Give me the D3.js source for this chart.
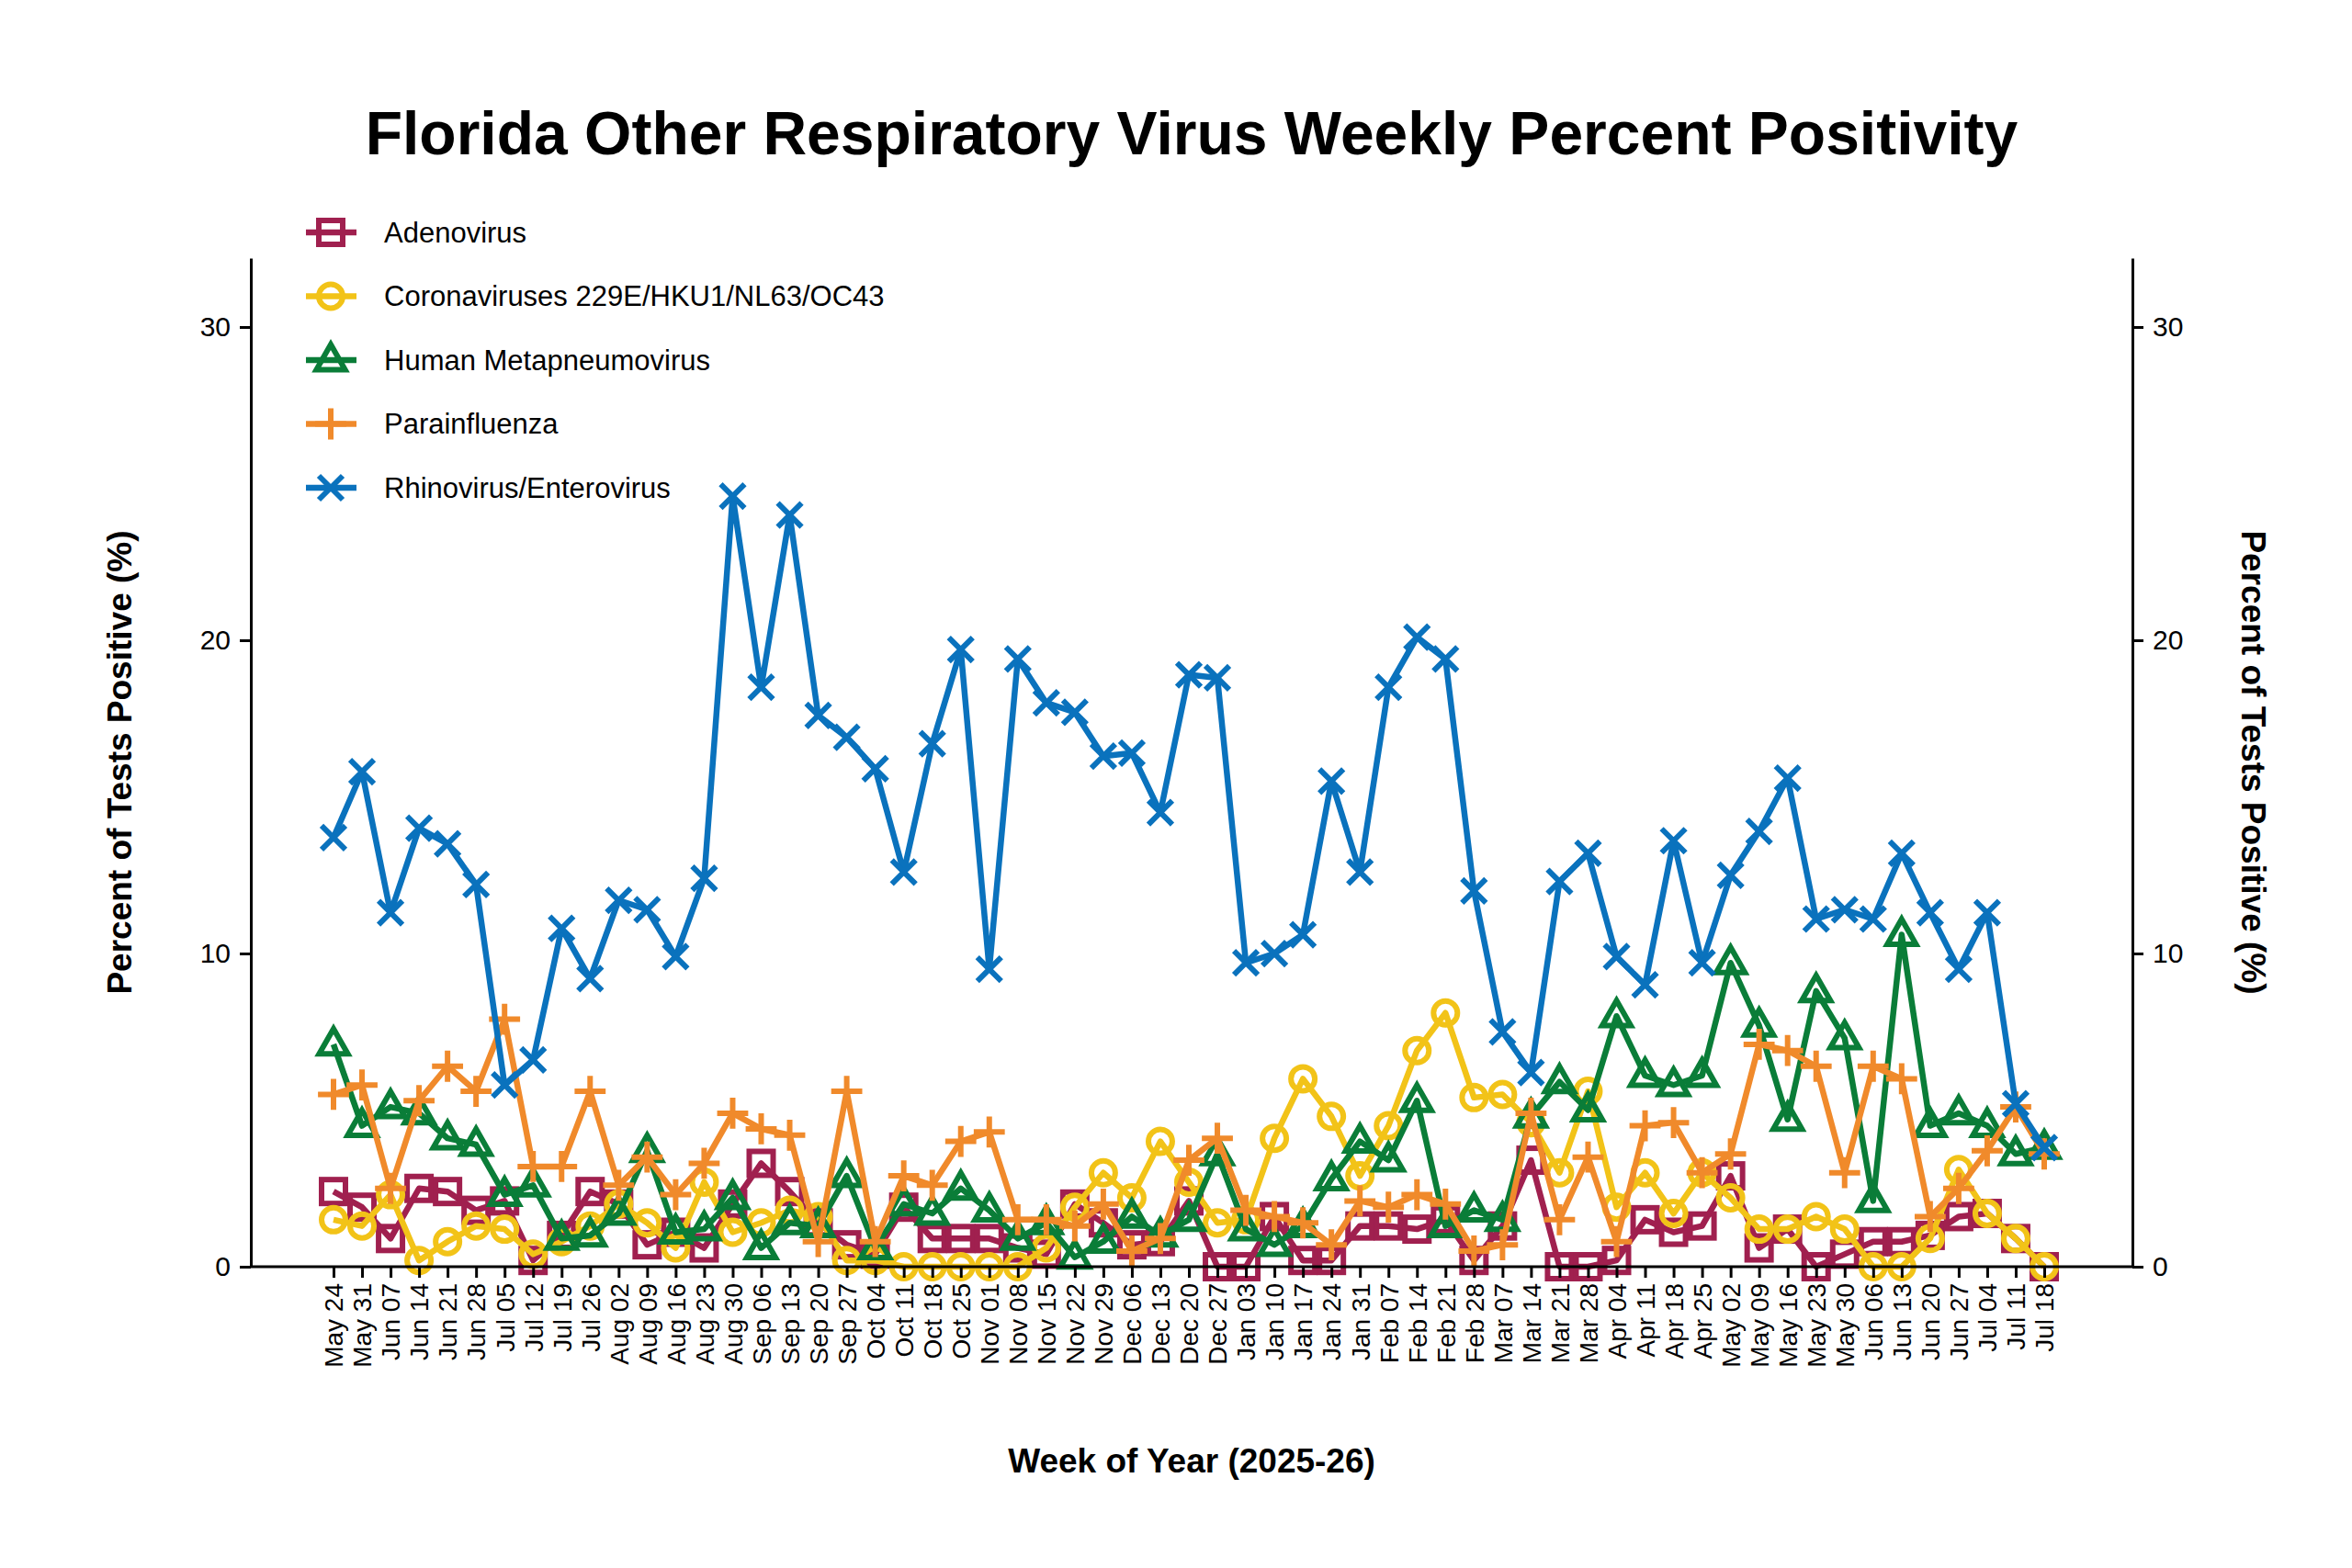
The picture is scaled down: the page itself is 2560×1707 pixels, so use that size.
<!DOCTYPE html>
<html>
<head>
<script src="https://d3js.org/d3.v7.min.js"></script>
<style>body{margin:0;background:#fff;font-family:Arial,"Liberation Sans",sans-serif;}</style>
</head>
<body>
<svg width="2560" height="1707"></svg>
<script>
const weeks = ["May 24","May 31","Jun 07","Jun 14","Jun 21","Jun 28","Jul 05","Jul 12","Jul 19","Jul 26","Aug 02","Aug 09","Aug 16","Aug 23","Aug 30","Sep 06","Sep 13","Sep 20","Sep 27","Oct 04","Oct 11","Oct 18","Oct 25","Nov 01","Nov 08","Nov 15","Nov 22","Nov 29","Dec 06","Dec 13","Dec 20","Dec 27","Jan 03","Jan 10","Jan 17","Jan 24","Jan 31","Feb 07","Feb 14","Feb 21","Feb 28","Mar 07","Mar 14","Mar 21","Mar 28","Apr 04","Apr 11","Apr 18","Apr 25","May 02","May 09","May 16","May 23","May 30","Jun 06","Jun 13","Jun 20","Jun 27","Jul 04","Jul 11","Jul 18"];

const adeno = [2.4,1.9,0.9,2.5,2.4,1.8,2.1,0.2,1.0,2.4,2.0,0.7,1.1,0.6,2.0,3.3,2.4,1.4,0.7,0.4,1.9,0.9,0.9,0.9,0.6,0.4,2.0,1.4,0.7,0.8,2.1,0.0,0.0,1.6,0.2,0.2,1.3,1.3,1.2,1.5,0.2,1.3,3.4,0.0,0.0,0.2,1.5,1.1,1.3,2.9,0.6,1.2,0.0,0.4,0.8,0.8,1.0,1.6,1.7,0.9,0.0];
const corona = [1.5,1.3,2.3,0.2,0.8,1.3,1.2,0.4,0.8,1.3,2.0,1.4,0.6,2.7,1.1,1.4,1.8,1.6,0.2,0.2,0.0,0.0,0.0,0.0,0.0,0.6,1.9,3.0,2.2,4.0,2.7,1.4,1.5,4.1,6.0,4.8,2.9,4.5,6.9,8.1,5.4,5.5,4.6,3.0,5.6,1.9,3.0,1.7,3.0,2.2,1.2,1.2,1.6,1.2,0.0,0.0,0.9,3.1,1.7,0.9,0.0];
const hmpv = [7.1,4.5,5.1,4.9,4.1,3.9,2.3,2.6,0.9,1.0,1.7,3.7,1.1,1.2,2.2,0.6,1.4,1.3,2.9,0.6,2.0,1.7,2.5,1.8,0.9,1.4,0.3,0.8,1.6,1.0,1.5,3.6,1.2,0.7,1.3,2.8,4.0,3.4,5.3,1.3,1.8,1.5,4.8,5.9,5.0,8.0,6.1,5.8,6.1,9.7,7.7,4.7,8.8,7.3,2.1,10.6,4.5,4.9,4.5,3.6,3.8];
const para = [5.5,5.8,2.5,5.3,6.4,5.6,7.9,3.2,3.2,5.6,2.6,3.5,2.3,3.3,4.9,4.4,4.2,0.8,5.6,0.8,2.9,2.6,4.0,4.3,1.5,1.5,1.3,2.0,0.5,0.9,3.4,4.1,1.8,1.6,1.4,0.7,2.1,1.9,2.3,2.0,0.5,0.7,4.9,1.5,3.5,0.8,4.5,4.6,3.0,3.6,7.1,6.9,6.4,3.0,6.4,6.0,1.6,2.5,3.7,5.1,3.6];
const rhino = [13.7,15.8,11.3,14.0,13.5,12.2,5.8,6.6,10.8,9.2,11.7,11.4,9.9,12.4,24.6,18.5,24.0,17.6,16.9,15.9,12.6,16.7,19.7,9.5,19.4,18.0,17.7,16.3,16.4,14.5,18.9,18.8,9.7,10.0,10.6,15.5,12.6,18.5,20.1,19.4,12.0,7.5,6.2,12.3,13.2,9.9,9.0,13.6,9.7,12.5,13.9,15.6,11.1,11.4,11.1,13.2,11.3,9.5,11.3,5.2,3.8];

const series = [
  {name:"Adenovirus", values:adeno, color:"#a0204f", shape:"square"},
  {name:"Coronaviruses 229E/HKU1/NL63/OC43", values:corona, color:"#f2c318", shape:"circle"},
  {name:"Human Metapneumovirus", values:hmpv, color:"#0a7d38", shape:"triangle"},
  {name:"Parainfluenza", values:para, color:"#f08a2b", shape:"plus"},
  {name:"Rhinovirus/Enterovirus", values:rhino, color:"#0a72bd", shape:"x"}
];

const svg = d3.select("svg");
const mLeft = 273, mRight = 2321, mTop = 281, mBottom = 1379;

const x = d3.scalePoint().domain(weeks).range([363, 2225]);
const y = d3.scaleLinear().domain([0, 32.2]).range([mBottom, mTop]);

function marker(g, shape, color) {
  const s = 13;
  if (shape === "square") g.append("rect").attr("x",-s).attr("y",-s).attr("width",2*s).attr("height",2*s);
  else if (shape === "circle") g.append("circle").attr("r", s);
  else if (shape === "triangle") g.append("path").attr("d", `M0,${-s*1.3}L${s*1.2},${s*0.8}L${-s*1.2},${s*0.8}Z`);
  else if (shape === "plus") g.append("path").attr("d", `M${-s*1.3},0H${s*1.3}M0,${-s*1.3}V${s*1.3}`);
  else g.append("path").attr("d", `M${-s},${-s}L${s},${s}M${-s},${s}L${s},${-s}`);
  g.selectAll("*").attr("fill","none").attr("stroke",color).attr("stroke-width",6);
}

const line = d3.line().x((d,i) => x(weeks[i])).y(d => y(d));
series.forEach(s => {
  svg.append("path").attr("d", line(s.values)).attr("fill","none")
    .attr("stroke", s.color).attr("stroke-width", 6.5).attr("stroke-linejoin","round");
  s.values.forEach((v,i) => {
    marker(svg.append("g").attr("transform",`translate(${x(weeks[i])},${y(v)})`), s.shape, s.color);
  });
});

function styleAxis(g) {
  g.selectAll("path, line").attr("stroke","#000").attr("stroke-width",3);
  g.selectAll("text").attr("font-size",30).attr("font-family","Arial, Liberation Sans, sans-serif").attr("fill","#000");
}
const ax = svg.append("g").attr("transform",`translate(0,${mBottom})`)
  .call(d3.axisBottom(x).tickSize(12).tickSizeOuter(0));
ax.select(".domain").attr("d", `M${mLeft},0H${mRight}`);
styleAxis(ax);
ax.selectAll("text").attr("font-size",28).attr("transform","rotate(-90)")
  .attr("text-anchor","end").attr("dy","0.35em").attr("x",-18).attr("y",0);

const ayl = svg.append("g").attr("transform",`translate(${mLeft},0)`)
  .call(d3.axisLeft(y).tickValues([0,10,20,30]).tickSize(12).tickSizeOuter(0).tickPadding(10));
styleAxis(ayl);
const ayr = svg.append("g").attr("transform",`translate(${mRight},0)`)
  .call(d3.axisRight(y).tickValues([0,10,20,30]).tickSize(12).tickSizeOuter(0).tickPadding(10));
styleAxis(ayr);

svg.append("text").attr("x",1297).attr("y",168).attr("text-anchor","middle")
  .attr("font-size",66).attr("font-weight","bold").text("Florida Other Respiratory Virus Weekly Percent Positivity");
svg.append("text").attr("x",1297).attr("y",1603).attr("text-anchor","middle")
  .attr("font-size",37).attr("font-weight","bold").text("Week of Year (2025-26)");
svg.append("text").attr("transform",`translate(143,${(mTop+mBottom)/2}) rotate(-90)`).attr("text-anchor","middle")
  .attr("font-size",37).attr("font-weight","bold").text("Percent of Tests Positive (%)");
svg.append("text").attr("transform",`translate(2440,${(mTop+mBottom)/2}) rotate(90)`).attr("text-anchor","middle")
  .attr("font-size",37).attr("font-weight","bold").text("Percent of Tests Positive (%)");

series.forEach((s,i) => {
  const yy = 253 + i*69.5;
  svg.append("line").attr("x1",333).attr("x2",388).attr("y1",yy).attr("y2",yy)
    .attr("stroke",s.color).attr("stroke-width",6.5);
  marker(svg.append("g").attr("transform",`translate(360,${yy})`), s.shape, s.color);
  svg.append("text").attr("x",418).attr("y",yy).attr("dy","0.35em").attr("font-size",31).text(s.name);
});
</script>
</body>
</html>
